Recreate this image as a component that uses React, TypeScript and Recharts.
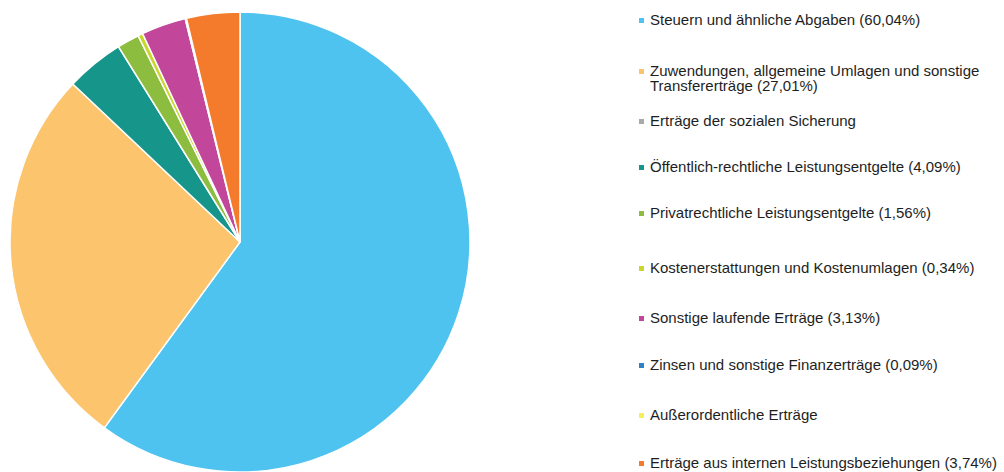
import { PieChart, Pie, Cell, Legend } from 'recharts';

const CATEGORIES = [
  'Steuern und ähnliche Abgaben',
  'Zuwendungen, allgemeine Umlagen und sonstige Transfererträge',
  'Erträge der sozialen Sicherung',
  'Öffentlich-rechtliche Leistungsentgelte',
  'Privatrechtliche Leistungsentgelte',
  'Kostenerstattungen und Kostenumlagen',
  'Sonstige laufende Erträge',
  'Zinsen und sonstige Finanzerträge',
  'Außerordentliche Erträge',
  'Erträge aus internen Leistungsbeziehungen',
];

const SHARES = [60.04, 27.01, 0, 4.09, 1.56, 0.34, 3.13, 0.09, 0, 3.74];

const SHARE_LABELS = ['60,04%', '27,01%', '', '4,09%', '1,56%', '0,34%', '3,13%', '0,09%', '', '3,74%'];

const COLORS = ['#4fc3ef', '#fcc46c', '#a9a9a9', '#16968a', '#8cbd3f', '#c9d62c', '#c2479a', '#2f80c4', '#f4ef5c', '#f47b2c'];

// vertical line centres of legend entries (layout only)
const LEGEND_Y = [20, 71, 121, 167, 213, 268, 318, 365, 415, 463];

const data = CATEGORIES.map((name, i) => ({
  name,
  value: SHARES[i],
  label: SHARE_LABELS[i] ? `${name} (${SHARE_LABELS[i]})` : name,
}));

function LegendList() {
  return (
    <div style={{ position: 'relative', width: 365, height: 472, fontFamily: '"Liberation Sans", Arial, sans-serif', fontSize: 15, color: '#1e1e1e' }}>
      {data.map((d, i) => (
        <div key={d.name} style={{ position: 'absolute', left: 0, top: LEGEND_Y[i] - 8, width: 365, lineHeight: '15px', display: 'flex' }}>
          <span style={{ display: 'inline-block', width: 5, height: 5, marginTop: 6, marginRight: 6, flex: 'none', background: COLORS[i] }} />
          <span style={{ width: 340, whiteSpace: i === 1 ? 'normal' : 'nowrap' }}>{d.label}</span>
        </div>
      ))}
    </div>
  );
}

export default function App() {
  return (
    <div style={{ position: 'absolute', left: 0, top: 0, background: '#fff' }}>
      <PieChart width={1004} height={472} margin={{ top: 0, right: 0, bottom: 0, left: 0 }}>
        <Pie
          data={data}
          dataKey="value"
          nameKey="name"
          cx={240}
          cy={242}
          outerRadius={230}
          startAngle={90}
          endAngle={-270}
          stroke="#fff"
          strokeWidth={1.5}
          isAnimationActive={false}
        >
          {data.map((d, i) => <Cell key={d.name} fill={COLORS[i]} />)}
        </Pie>
        <Legend
          layout="vertical"
          verticalAlign="top"
          align="right"
          wrapperStyle={{ left: 639, top: 0, width: 365 }}
          content={() => <LegendList />}
        />
      </PieChart>
    </div>
  );
}
